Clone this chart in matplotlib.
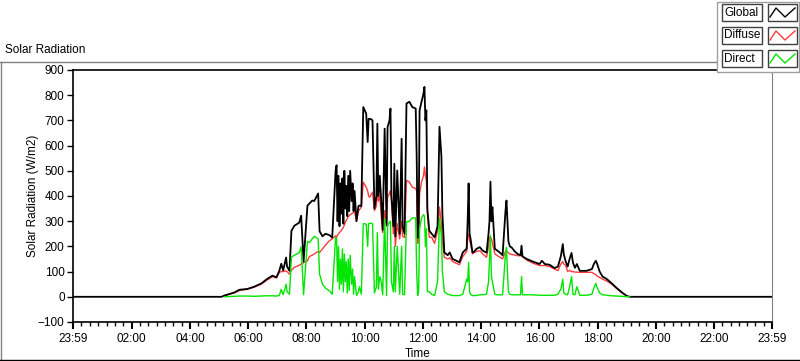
import numpy as np
import matplotlib.pyplot as plt
from matplotlib.lines import Line2D
from matplotlib.patches import Rectangle
from matplotlib.ticker import FixedLocator

nan = np.nan

# readings (W/m2), one day, times of day
times = ["00:00", "05:05", "05:11", "05:31", "05:42", "05:58", "06:12", "06:27", "06:39", "06:50",
         "06:58", "07:04", "07:08", "07:12", "07:18", "07:20", "07:25", "07:29", "07:35", "07:45",
         "07:49", "07:54", "08:02", "08:06", "08:12", "08:16", "08:20", "08:24", "08:27", "08:33",
         "08:39", "08:47", "08:53", "09:00", "09:02", "09:04", "09:06", "09:08", "09:10", "09:12",
         "09:14", "09:16", "09:18", "09:20", "09:22", "09:24", "09:26", "09:28", "09:30", "09:33",
         "09:35", "09:37", "09:39", "09:43", "09:47", "09:49", "09:53", "09:57", "10:00", "10:03",
         "10:06", "10:08", "10:10", "10:13", "10:16", "10:20", "10:24", "10:26", "10:28", "10:31",
         "10:34", "10:37", "10:41", "10:45", "10:47", "10:51", "10:53", "10:55", "10:59", "11:01",
         "11:03", "11:07", "11:12", "11:16", "11:18", "11:22", "11:26", "11:32", "11:38", "11:45",
         "11:47", "11:49", "11:51", "11:53", "11:57", "12:01", "12:03", "12:05", "12:07", "12:09",
         "12:13", "12:18", "12:24", "12:30", "12:34", "12:38", "12:40", "12:44", "12:51", "12:55",
         "13:01", "13:09", "13:15", "13:22", "13:30", "13:32", "13:34", "13:36", "13:38", "13:42",
         "13:46", "13:50", "13:57", "14:03", "14:11", "14:15", "14:17", "14:19", "14:21", "14:23",
         "14:28", "14:32", "14:38", "14:44", "14:50", "14:52", "14:54", "14:56", "14:59", "15:03",
         "15:09", "15:15", "15:21", "15:23", "15:25", "15:34", "15:46", "16:00", "16:05", "16:11",
         "16:21", "16:31", "16:38", "16:44", "16:48", "16:50", "16:54", "16:58", "17:02", "17:06",
         "17:09", "17:13", "17:17", "17:23", "17:37", "17:48", "17:52", "17:56", "17:58", "18:04",
         "18:10", "18:19", "18:29", "18:39", "18:50", "19:00", "19:06", "23:59"]

global_rad = [0, 0, 5, 17, 28, 31, 40, 53, 71, 84,
              77, 103, 131, 105, 156, 120, 103, 262, 282, 294,
              322, 140, 362, 370, 382, 380, 395, 410, 260, 240,
              250, 245, 235, 501, 522, 300, 480, 280, 450, 330,
              470, 290, 500, 350, 440, 320, 480, 340, 500, 380,
              450, 340, 420, 300, 360, 362, 360, 753, 740, 727,
              614, 706, 706, 705, 700, 350, 400, 687, 400, 480,
              380, 265, 667, 285, 673, 700, 747, 400, 280, 528,
              240, 501, 250, 627, 280, 250, 767, 774, 753, 747,
              560, 235, 260, 740, 774, 806, 833, 700, 740, 350,
              262, 250, 236, 280, 675, 555, 327, 176, 165, 176,
              150, 143, 137, 176, 191, 300, 450, 250, 230, 176,
              180, 190, 197, 183, 175, 250, 300, 457, 300, 356,
              190, 185, 176, 165, 342, 382, 300, 220, 200, 195,
              180, 170, 165, 203, 160, 150, 140, 130, 143, 130,
              127, 114, 120, 161, 209, 170, 140, 120, 150, 174,
              135, 115, 130, 103, 103, 110, 130, 143, 135, 100,
              80, 70, 53, 35, 17, 3, 0, 0]

diffuse_rad = [nan, nan, 5, 15, 25, 30, 38, 50, 67, 80,
               75, 97, 100, 100, 103, 100, 90, 105, 117, 125,
               130, 135, 143, 160, 165, 170, 175, 180, 176, 190,
               205, 222, 230, 242, 236, 245, 250, 255, 260, 263,
               270, 275, 285, 295, 303, 310, 318, 322, 326, 330,
               332, 335, 338, 300, 340, 345, 356, 455, 445, 435,
               420, 400, 395, 405, 415, 342, 360, 435, 380, 400,
               320, 255, 342, 280, 395, 410, 421, 380, 250, 315,
               200, 290, 230, 300, 240, 235, 462, 455, 435, 430,
               420, 212, 230, 408, 455, 480, 515, 480, 462, 330,
               236, 236, 212, 263, 356, 290, 220, 157, 150, 155,
               140, 133, 127, 160, 180, 235, 250, 223, 210, 170,
               176, 180, 183, 170, 157, 200, 236, 236, 230, 215,
               170, 165, 157, 150, 180, 183, 178, 175, 170, 168,
               166, 163, 163, 163, 160, 145, 134, 124, 124, 124,
               120, 110, 104, 130, 140, 130, 125, 100, 105, 100,
               100, 98, 98, 97, 97, 97, 92, 88, 83, 77,
               70, 62, 50, 33, 16, 3, 0, nan]

direct_rad = [nan, nan, 0, 2, 3, 3, 2, 3, 4, 4,
              3, 5, 30, 8, 50, 20, 10, 157, 165, 175,
              199, 8, 220, 215, 230, 240, 235, 230, 90, 50,
              35, 24, 10, 236, 230, 60, 200, 30, 150, 50,
              190, 20, 170, 60, 140, 15, 150, 25, 165, 50,
              110, 10, 80, 5, 20, 40, 10, 290, 290, 288,
              200, 290, 292, 292, 290, 15, 40, 255, 30, 80,
              60, 8, 310, 5, 280, 297, 300, 60, 20, 200,
              20, 200, 10, 200, 10, 8, 297, 300, 313, 313,
              100, 5, 20, 270, 313, 326, 320, 200, 270, 20,
              20, 10, 5, 60, 313, 236, 100, 20, 10, 8,
              5, 5, 5, 10, 70, 60, 137, 20, 10, 5,
              5, 5, 8, 8, 10, 60, 143, 243, 80, 60,
              10, 8, 8, 8, 170, 196, 100, 20, 10, 8,
              8, 8, 8, 80, 8, 8, 8, 6, 6, 6,
              6, 6, 10, 30, 70, 15, 10, 8, 40, 80,
              10, 8, 40, 6, 6, 10, 35, 53, 40, 15,
              8, 6, 4, 3, 2, 1, 0, nan]

tick_labels = ["23:59", "02:00", "04:00", "06:00", "08:00", "10:00", "12:00",
               "14:00", "16:00", "18:00", "20:00", "22:00", "23:59"]

W, H = 800, 361


def to_min(s):
    h, m = s.split(":")
    return int(h) * 60 + int(m)


def fx(x):
    return x / W


def fy(y):
    return 1 - y / H


plt.rcParams['font.family'] = ['Liberation Sans', 'DejaVu Sans']
fig = plt.figure(figsize=(W / 100, H / 100), dpi=100)
ax = fig.add_axes([fx(73), fy(322), (772 - 73) / W, (322 - 70) / H])

x = [to_min(t) for t in times]
ax.plot(x, diffuse_rad, color='#ff3c3c', lw=1.0, zorder=2)
ax.plot(x, global_rad, color='black', lw=1.3, zorder=3)
ax.plot(x, direct_rad, color='#00e600', lw=1.0, zorder=4)

# axis runs 23:59 (day before) to 23:59
major = [-1] + list(range(120, 1440, 120)) + [1439]
ax.set_xlim(-1, 1439)
ax.set_ylim(-100, 900)
ax.set_xticks(major)
ax.set_xticklabels(tick_labels)
minor = []
for a, b in zip(major[:-1], major[1:]):
    minor += list(np.linspace(a, b, 8)[1:-1])
ax.xaxis.set_minor_locator(FixedLocator(minor))
ax.set_yticks(range(-100, 1000, 100))

ax.tick_params(axis='both', labelsize=8.5, colors='black')
ax.tick_params(axis='y', length=4, width=1, pad=2)
ax.tick_params(axis='x', which='major', length=5, width=1.5, pad=3)
ax.tick_params(axis='x', which='minor', length=3, width=1)
for s in ['left', 'top', 'bottom']:
    ax.spines[s].set_color('black')
    ax.spines[s].set_linewidth(1.2)
ax.spines['right'].set_color('#808080')

ax.set_ylabel("Solar Radiation (W/m2)", fontsize=8.5)
ax.yaxis.set_label_coords((39 - 73) / 699, 0.5)
ax.set_xlabel("Time", fontsize=8.5)
ax.xaxis.set_label_coords((418 - 73) / 699, (322 - 348) / 252)

fig.text(fx(5), fy(50), "Solar Radiation", fontsize=8.5, va='center', ha='left')

# outer frame
fig.add_artist(Line2D([fx(0), fx(717)], [fy(62), fy(62)], color='#808080', lw=1))
fig.add_artist(Line2D([fx(0.5), fx(0.5)], [fy(62), fy(360)], color='#808080', lw=1))
fig.add_artist(Line2D([fx(0), fx(800)], [fy(360), fy(360)], color='black', lw=1))

# legend panel
fig.add_artist(Rectangle((fx(717), fy(72)), (799 - 717) / W, (72 - 2) / H,
                         transform=fig.transFigure, facecolor='white',
                         edgecolor='#a0a0a0', lw=1, zorder=5))
names = ["Global", "Diffuse", "Direct"]
colors = ['black', '#ff3c3c', '#00e600']
for i, (name, c) in enumerate(zip(names, colors)):
    top = 4 + 23 * i
    fig.add_artist(Rectangle((fx(722), fy(top + 17)), 40 / W, 17 / H,
                             transform=fig.transFigure, facecolor='white',
                             edgecolor='#404040', lw=1, zorder=6))
    fig.add_artist(Rectangle((fx(768), fy(top + 17)), 29 / W, 17 / H,
                             transform=fig.transFigure, facecolor='white',
                             edgecolor='#404040', lw=1, zorder=6))
    fig.text(fx(724), fy(top + 8.5), name, fontsize=8.5, va='center', ha='left', zorder=7)
    zx = [fx(770), fx(776), fx(785), fx(795)]
    zy = [fy(top + 13), fy(top + 4), fy(top + 13), fy(top + 4)]
    fig.add_artist(Line2D(zx, zy, color=c, lw=1, zorder=7))

fig.savefig("out.png", dpi=100)
